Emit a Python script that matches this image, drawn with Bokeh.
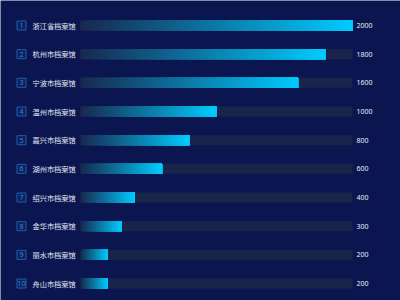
from bokeh.plotting import figure
from bokeh.models import Range1d
from bokeh.embed import file_html
from bokeh.resources import INLINE
from bokeh.core.properties import value

names = ["浙江省档案馆", "杭州市档案馆", "宁波市档案馆", "温州市档案馆", "嘉兴市档案馆",
         "湖州市档案馆", "绍兴市档案馆", "金华市档案馆", "丽水市档案馆", "舟山市档案馆"]
values = [2000, 1800, 1600, 1000, 800, 600, 400, 300, 200, 200]
ranks = [str(i + 1) for i in range(len(names))]

W, H = 400, 300
BAR_X0, BAR_X1 = 80, 352          # pixel span of the bar track
ROW0, ROW_STEP = 25, 28.67        # pixel centre of first row and spacing
vmax = max(values)
px = vmax / (BAR_X1 - BAR_X0)     # data units per pixel

x_start = -BAR_X0 * px
x_end = (W - BAR_X0) * px
y_top = -ROW0 / ROW_STEP
y_bot = (H - ROW0) / ROW_STEP

p = figure(width=W, height=H, output_backend="svg", toolbar_location=None,
           x_range=Range1d(x_start, x_end), y_range=Range1d(y_bot, y_top),
           min_border=0, background_fill_color="#0b1651", border_fill_color="#0b1651")
p.axis.visible = False
p.grid.visible = False
p.outline_line_color = None

rows = list(range(len(names)))
bh = 10 / ROW_STEP

# track
p.hbar(y=rows, left=0, right=vmax, height=bh, fill_color="#19244a", line_color=None)

# gradient bars: overlapping slices, each running to the bar end
N = 60
bg = (0x19, 0x24, 0x4a)
fg = (0x00, 0xcc, 0xff)
ys, ls, rs, cs = [], [], [], []
for i, v in enumerate(values):
    for k in range(N):
        t = (k + 0.5) / N
        a = 0.03 + 0.97 * t
        c = tuple(int(bg[j] * (1 - a) + fg[j] * a) for j in range(3))
        ys.append(i)
        ls.append(v * k / N)
        rs.append(v)
        cs.append("#%02x%02x%02x" % c)
p.hbar(y=ys, left=ls, right=rs, height=bh, fill_color=cs, line_color=None)

# rank boxes
box_x = (21 - BAR_X0) * px
p.scatter(x=[box_x] * len(rows), y=rows, marker="square", size=9,
          fill_color="#0e1f5e", line_color="#1f5ea6", line_width=1)
p.text(x=[box_x] * len(rows), y=rows, text=ranks, text_color="#3f86d6",
       text_font=value("Noto Sans"), text_font_size="7px",
       text_align="center", text_baseline="middle")

# names
lab_x = (32 - BAR_X0) * px
p.text(x=[lab_x] * len(rows), y=rows, text=names, text_color="#e6ebf5",
       text_font=value("Noto Sans CJK SC"), text_font_size="7.2px",
       text_align="left", text_baseline="middle")

# values
val_x = (356 - BAR_X0) * px
p.text(x=[val_x] * len(rows), y=rows, text=[str(v) for v in values],
       text_color="#e6ebf5", text_font=value("Noto Sans"), text_font_size="7px",
       text_align="left", text_baseline="middle")

open("out.html", "w").write(file_html(p, INLINE))
